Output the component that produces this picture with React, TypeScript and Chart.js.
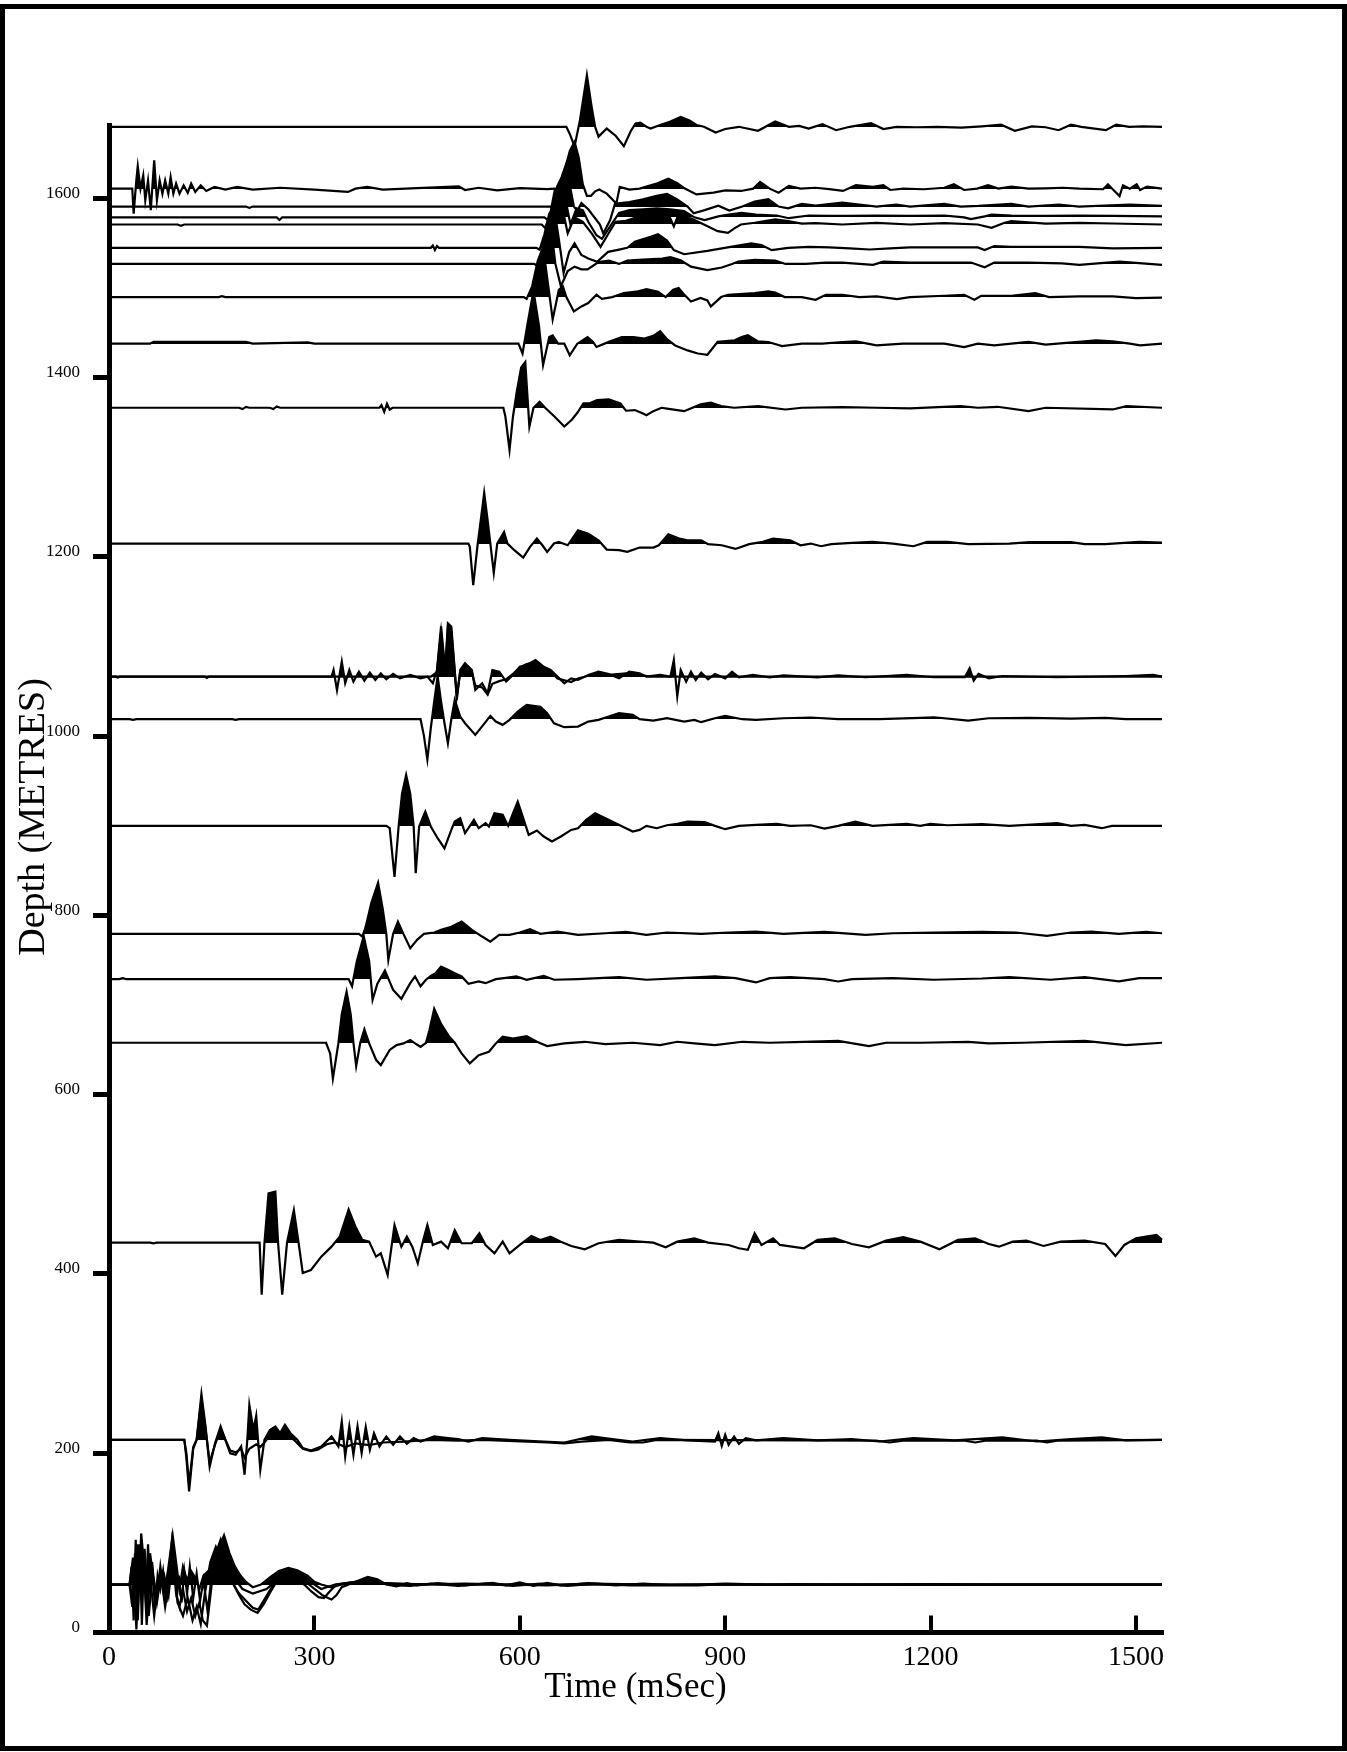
import { useEffect, useRef } from 'react';
import { Chart, registerables } from 'chart.js';

Chart.register(...registerables);

// Axis ticks
const xTicks = [0, 300, 600, 900, 1200, 1500];
const yTicks = [0, 200, 400, 600, 800, 1000, 1200, 1400, 1600];

// Receiver depths (m) for each recorded trace
const depths = [1680, 1611, 1591, 1579, 1571, 1545, 1527, 1490, 1438, 1366.5, 1215, 1066.5, 1066.5, 1019, 900, 779.5, 729, 658, 435, 215, 215, 53.5, 53.5, 53.5, 53.5];

// Trace samples: [time ms, amplitude (m of deflection)]
const tr01 = [[0,0],[668,0],[673,-8],[680,-22],[688,8],[698,57.6],[705,22],[710,0],[715,-11],[727,-2],[740,-10],[752,-21.6],[762,-5],[769,3.7],[776,4.5],[785,0],[791,-1.9],[805,2],[820,6],[835,11],[848,7],[858,2],[869,0],[886,-6.4],[900,-2.5],[920,0],[948,-4.5],[973,6],[993,0],[1008,1],[1022,-2],[1042,3],[1062,-3.8],[1082,0],[1113,4],[1131,-2.5],[1150,0],[1180,-0.5],[1210,0],[1245,-1],[1275,0.5],[1303,2.3],[1323,-4.5],[1348,0.5],[1368,-0.5],[1387,-3.8],[1405,2.3],[1420,0],[1456,-3.8],[1471,2.3],[1490,0],[1510,0.5],[1538,0]];
const tr02 = [[0,0],[34,0],[36,-27.9],[40,10],[42,24.9],[46,0],[50,14.9],[53,-13],[57,9],[61,-24],[66,31.6],[70,-13],[74,9.3],[78,-5.6],[82,9.3],[86.6,-5.6],[90,13],[94,-5.6],[98,5.6],[103,-5.6],[109,3.7],[115,-4.8],[120,5.6],[126,-3.7],[134,3.7],[142,-2.6],[154,1.9],[170,-1.1],[187,1.9],[210,-1],[250,1],[300,-1],[349,-3.7],[360,0],[377,1.9],[400,-1],[450,0.5],[511,2.6],[520,-1.5],[540,1],[567,-1.9],[600,0.5],[640,-0.5],[651,0],[657,-3],[665,18],[673,42],[680,52],[686,35],[692,5],[698,-8],[704,-8],[710,-3],[716,-1],[727,-5.6],[741,-16.7],[746,2],[760,-1],[775,0],[800,5.6],[817,11],[830,6],[839,1],[858,-6.4],[883,-4.5],[900,-2],[923,-2.6],[941,0],[951,7.5],[965,0],[978,-4.5],[993,3],[1010,0],[1032,1],[1052,-0.5],[1072,-2.6],[1091,3.8],[1116,1.9],[1131,3.8],[1141,-1.5],[1160,0],[1190,-0.7],[1220,1],[1234,4.9],[1249,-1.5],[1268,0],[1284,3.8],[1299,0],[1318,2.3],[1343,0],[1368,0.4],[1393,1],[1417,0],[1452,-0.7],[1459,4.9],[1466,-0.7],[1476,-8.3],[1481,3.8],[1491,0],[1501,4.9],[1506,-1.5],[1516,2.3],[1538,0]];
const tr03 = [[0,0],[200,0],[205,-1.5],[210,0],[640,0],[645,0],[650,-4],[656,10],[662,35],[668,48],[674,20],[679,0],[684,-5],[690,4],[700,-3],[717,-20],[722,-30],[732,-15],[739,3],[760,5],[780,8],[800,12],[815,14],[830,8],[845,0],[854,-7.5],[870,-4],[890,1],[906,-4.5],[925,0],[943,5.7],[963,8.3],[978,0],[992,-1.9],[1012,3],[1032,1],[1071,4.5],[1096,2.3],[1121,0],[1150,2.3],[1170,0],[1220,3],[1244,0],[1270,0.7],[1318,3],[1343,0],[1387,2.3],[1417,0],[1491,2.3],[1538,0.7]];
const tr04 = [[0,0],[245,0],[249,-3],[253,0],[636,0],[641,-3],[648,8],[655,35],[662,46],[668,15],[674,-8],[683,10],[692,8],[700,-5],[712,-20],[720,-24],[732,-10],[745,5],[760,8],[780,9],[800,10],[820,9],[840,7],[855,0],[870,-3],[890,1],[905,3],[924,5],[945,3],[975,2],[993,-1],[1022,2],[1052,1.5],[1082,1.5],[1121,2],[1170,1.5],[1220,2],[1249,0],[1259,-2],[1279,1],[1289,3],[1318,2],[1368,1.5],[1417,2],[1466,1.5],[1538,1]];
const tr05 = [[0,0],[100,0],[105,-1.5],[110,0],[632,0],[637,-4],[644,10],[651,38],[658,45],[664,12],[670,-10],[680,8],[692,3],[705,-10],[718,-25],[728,-12],[740,3],[755,4],[775,9],[795,15],[815,15],[825,-2],[830,8],[850,7],[869,0],[889,-7.5],[904,-9.4],[914,-4],[923,0],[943,1.9],[973,5.6],[992,3.8],[1012,1],[1032,1.5],[1071,0],[1121,1.9],[1170,0],[1220,1.5],[1269,0],[1289,-3.8],[1308,1.9],[1318,3.8],[1368,1],[1417,1.9],[1466,1.1],[1538,0]];
const tr06 = [[0,0],[470,0],[473,2.5],[476,-2.5],[479,2],[482,0],[624,0],[629,-2],[636,15],[643,38],[650,45],[657,10],[664,-28],[672,-5],[680,5],[690,-8],[700,-12],[713,-15.6],[729,-4.5],[745,-2],[757,0],[768,6.7],[791,12.3],[802,15.2],[815,8],[825,-2.6],[840,-7.2],[874,-3.5],[908,1],[938,4.9],[953,3],[968,-2.6],[992,0],[1022,1],[1052,0.5],[1082,-0.7],[1111,-1.9],[1141,-0.7],[1170,0.4],[1269,0.4],[1279,-2.6],[1293,1.9],[1318,1.1],[1417,1.1],[1466,-0.7],[1538,0]];
const tr07 = [[0,0],[621,0],[626,-2],[633,15],[640,40],[645,45],[652,0],[660,-25],[670,-8],[680,-3],[690,-6],[699,-6],[715,2],[730,3.7],[745,0],[757,3.7],[780,4.8],[808,6],[820,7.5],[835,4],[850,-3],[874,-6.8],[895,-4],[910,0],[919,2.6],[943,4.5],[973,3.8],[988,0],[1017,0],[1047,1.5],[1071,1.5],[1116,-1.1],[1131,2.6],[1170,1.5],[1220,1.5],[1259,1.5],[1279,-3.8],[1293,1.5],[1343,1.5],[1392,0.7],[1417,-1.1],[1476,2.6],[1500,1.1],[1538,-1.1]];
const tr08 = [[0,0],[160,0],[165,1],[170,0],[606,0],[610,-2],[618,12],[626,40],[634,56],[642,10],[648,-25],[657,8],[663,12],[668,0],[679,-16],[690,-10.4],[700,-6.7],[712,2.6],[720,-2],[735,0],[752,4.5],[770,6],[785,8.9],[802,6],[813,0],[824,8.2],[832,10],[840,3],[850,-4.9],[864,-1],[874,-3.8],[879,-10.6],[894,0],[904,2.6],[943,4.5],[963,6.4],[973,5],[987,0],[1012,0],[1032,-3],[1047,2.6],[1071,2.6],[1096,0],[1121,0.7],[1151,-2.3],[1170,0],[1220,1.5],[1249,2.6],[1264,-3],[1274,1.5],[1318,1.5],[1353,4.5],[1373,0],[1417,0.7],[1466,0.7],[1500,-1.1],[1538,-0.7]];
const tr09 = [[0,0],[60,0],[65,2],[200,2],[210,0],[290,1.5],[300,0],[595,0],[598,0],[604,-11],[612,25],[620,59],[628,20],[634,-24],[643,7.4],[648,9.3],[656,0],[665,0],[673,-13],[684,0],[699,7.4],[707,2],[712,-3.7],[730,2],[749,7.4],[766,7.4],[782,5.6],[795,8.7],[805,14],[815,5],[827,-2],[845,-7.5],[860,-11],[874,-12.4],[881,-5.6],[889,2],[914,3.8],[924,7.5],[933,9.4],[948,2.6],[963,1.9],[983,-2.6],[1012,0],[1042,0],[1071,1.9],[1091,2.6],[1121,-1.9],[1160,0],[1190,0],[1220,0],[1249,-3.8],[1269,0],[1293,-1.9],[1318,0],[1343,1.9],[1368,-1.1],[1442,3.8],[1466,2.6],[1491,0],[1506,-1.9],[1538,0]];
const tr10 = [[0,0],[190,0],[195,-1.5],[200,1],[205,0],[235,0],[240,-1.5],[245,1.5],[250,0],[395,0],[398,3],[402,-4.5],[406,4.5],[410,-2],[414,0],[570,0],[576,0],[579,-10],[585,-47],[590,-10],[596,20],[602,45],[608,51],[614,-21],[620,0],[629,6.7],[637,0],[651,-10],[665,-21],[676,-13.4],[684,-5.6],[693,4.8],[701,4.8],[713,8.5],[730,9.3],[747,4.8],[755,-3.3],[768,-2.6],[780,-6.3],[785,-8.3],[795,-3.8],[807,0],[815,-1],[840,-3.8],[864,3.8],[879,5.7],[894,1.9],[913,0],[948,1.9],[988,-1.9],[1012,0],[1071,0.7],[1121,0],[1170,-0.7],[1244,1.9],[1269,0],[1298,1.1],[1343,-3.8],[1368,0],[1466,-1.9],[1486,1.9],[1538,0]];
const tr11 = [[0,0],[525,0],[527,-3.7],[532,-46.5],[538,-3.7],[543,26],[548,56.5],[553,26],[557,0],[562,-32.7],[567,0],[577,13],[582,0],[592,-7.4],[605,-15.6],[615,-3.7],[625,5.6],[633,-1.9],[640,-9.3],[650,0],[657,1.9],[670,-1.9],[685,14.9],[700,11],[715,3.7],[727,-6.7],[745,-7.4],[757,-9.3],[775,-4.5],[795,-4.5],[803,-1.9],[817,10.4],[833,5.6],[845,3.7],[865,3.7],[875,-0.7],[895,-1.9],[915,-6],[935,-0.7],[955,1.9],[970,5.6],[995,3.7],[1010,-1.9],[1025,0],[1040,-3],[1055,-0.7],[1085,0.7],[1115,1.9],[1145,0],[1175,-3],[1195,1.9],[1225,1.9],[1255,-0.7],[1315,0],[1345,1.5],[1405,1.5],[1425,-0.7],[1455,-0.7],[1505,1.9],[1538,1.1]];
const tr12 = [[0,0],[10,0],[13,-1],[16,0],[140,0],[143,-1.5],[146,0],[325,0],[328,7.4],[333,-15],[340,16.7],[345,-7.4],[351,7.4],[357,-5.6],[365,5.6],[373,-4.5],[381,4.5],[389,-3.7],[397,3.7],[405,-3],[415,3],[425,-1.9],[440,1.9],[455,-1.9],[465,0],[473,-7.4],[479,7.4],[485,56],[491,7.4],[495,59.5],[500,56],[505,7.4],[508,-26],[513,7.4],[520,15],[530,7.4],[535,-15],[545,-7.4],[553,-18.6],[560,7.4],[570,5.6],[580,-5.6],[590,1.9],[600,11],[610,13],[623,18.6],[635,11],[645,7.4],[655,0],[665,-7.4],[675,-1.9],[685,-3.7],[700,1.9],[715,5.6],[730,3],[745,-1.9],[760,5.6],[775,3.7],[785,0],[805,1.9],[820,0],[825,18.6],[830,-22],[835,7.4],[843,-5.6],[850,5.6],[857,-3.7],[865,4.5],[875,-3],[885,3],[900,-1.9],[910,5.6],[920,-0.7],[940,1.9],[965,-0.7],[985,1.5],[1035,-0.7],[1065,1.5],[1105,-0.7],[1165,1.9],[1205,-0.7],[1250,-0.7],[1257,9.3],[1263,-4.5],[1270,3],[1285,-1.9],[1305,0.7],[1385,-0.7],[1485,0.7],[1525,1.9],[1538,0]];
const tr12b = [[0,0],[470,0],[479,5],[485,50],[491,5],[495,55],[500,50],[505,5],[508,-22],[513,5],[520,12],[530,5],[535,-10],[545,-12],[553,-20],[560,-8],[570,-5],[580,-3],[590,3],[600,10],[610,14],[623,16],[635,10],[645,6],[655,-2],[665,-4],[675,-6],[685,-2],[700,1],[715,4],[730,2],[760,4],[790,0],[1538,0]];
const tr13 = [[0,0],[30,0],[35,-0.7],[40,0],[180,0],[185,-0.7],[190,0],[455,0],[460,-18.6],[465,-45],[470,-10],[475,20],[480,48],[485,20],[490,-4.5],[495,-26.8],[500,0],[505,21.6],[513,3],[520,-4.5],[535,-17.5],[545,-8],[557,3.7],[565,-2.6],[575,-6.3],[585,-0.7],[597,8.6],[610,16],[630,14],[640,6.7],[650,-4.5],[665,-8.9],[685,-8.2],[700,-2.6],[715,-0.7],[730,3],[745,6.7],[765,4.8],[775,0],[795,-1.5],[815,1.1],[840,-2.6],[855,-0.7],[865,-3.3],[885,1.1],[900,3.7],[925,0],[945,-0.7],[985,1.1],[1025,1.9],[1065,0],[1125,0],[1185,1.5],[1205,2.2],[1255,-1.5],[1285,1.1],[1345,1.5],[1405,0.7],[1455,1.5],[1485,0],[1538,0]];
const tr14 = [[0,0],[405,0],[410,-2.6],[417,-57],[423,-0.7],[428,36],[434,57],[440,36],[445,-0.7],[448,-52.8],[453,-0.7],[462,16],[470,-0.7],[480,-13.8],[490,-25],[500,-4.5],[505,4.8],[513,8.6],[520,-8],[525,-2.6],[533,6.7],[540,-2.6],[550,3],[555,-0.7],[563,14],[575,12.3],[583,0],[590,14],[597,27],[605,8.6],[613,-10],[625,-5.2],[635,-11.9],[647,-17.5],[660,-11.9],[675,-4.5],[685,-2.6],[697,6.7],[710,14],[725,8.6],[740,3],[755,-2.6],[765,-6.3],[775,-4.5],[785,0],[800,-2.6],[815,0.7],[830,2.2],[845,4.8],[870,4.1],[885,0],[900,-3.7],[920,0],[945,1.1],[975,2.2],[995,0],[1025,0.7],[1045,-3],[1065,0],[1090,4.8],[1115,0],[1165,2.2],[1185,0],[1200,2.2],[1225,0.7],[1275,1.9],[1315,0],[1385,3],[1405,0],[1425,1.1],[1450,-2.6],[1465,0],[1538,0]];
const tr15 = [[0,0],[365,0],[370,-3],[375,8],[383,34],[393,57],[400,27],[405,0],[408,-29],[415,0],[422,13.8],[430,0],[440,-16],[450,-6.7],[460,0],[475,1.5],[485,4.5],[500,8],[515,13.8],[530,4.5],[545,-3],[557,-8.6],[570,-1.1],[585,-1.1],[600,1.5],[615,5.2],[630,0],[655,2.6],[685,-1.1],[725,0.7],[755,2.2],[785,-1.1],[815,1.5],[865,0],[905,1.5],[945,2.6],[985,0],[1045,2.2],[1105,-1.1],[1145,0.7],[1205,1.5],[1275,2.2],[1325,1.5],[1370,-2.2],[1405,1.5],[1435,2.6],[1475,0],[1515,2.2],[1538,0.7]];
const tr16 = [[0,0],[15,0],[20,1],[25,0],[350,0],[355,-8],[362,20],[372,48],[380,20],[385,-23],[392,-5],[403,9.7],[415,-12],[427,-22],[440,-4.5],[447,3],[455,-8],[463,-0.7],[470,3.7],[477,6.7],[485,14],[495,10.4],[505,6.7],[515,3],[525,-5.2],[540,-2.6],[550,-4.5],[565,0],[577,1.1],[595,3],[610,-0.7],[635,3.7],[650,-0.7],[685,0],[745,2.2],[785,-0.7],[835,1.1],[885,3],[915,1.1],[945,-3.7],[965,1.1],[995,2.2],[1045,0],[1065,-2.6],[1085,0],[1145,1.1],[1205,-0.7],[1275,0.7],[1315,2.2],[1375,-0.7],[1425,2.2],[1475,-2.6],[1505,1.1],[1538,1.1]];
const tr17 = [[0,0],[317,0],[323,-11.9],[327,-40],[335,-0.7],[340,32],[347,57],[353,32],[357,0],[361,-26],[367,0],[373,15],[380,-0.7],[390,-19],[397,-25],[410,-8],[420,-2.6],[430,-0.7],[440,3],[447,-0.7],[455,-4.5],[463,0],[468,14],[475,38],[485,21],[497,6.7],[505,0],[515,-11.9],[527,-23],[540,-13.8],[555,-10],[565,-0.7],[575,6.7],[590,4.8],[610,7.4],[625,1.1],[640,-3.7],[665,-0.7],[695,1.1],[725,-1.5],[765,0],[805,-2.6],[830,1.1],[855,-0.7],[885,-2.6],[925,1.1],[965,0],[1015,1.1],[1065,2.2],[1110,-3.7],[1135,0],[1185,0],[1255,1.1],[1285,-0.7],[1335,0],[1425,2.2],[1485,-2.6],[1538,0]];
const tr18 = [[0,0],[60,0],[65,-0.7],[70,0],[220,0],[223,-58],[227,-0.7],[233,55],[243,57],[247,-0.7],[253,-58],[260,0],[270,36.4],[277,-0.7],[283,-34],[295,-30.5],[310,-15.6],[325,-4.5],[337,6.7],[350,37],[360,17.8],[370,3],[380,1.1],[390,-15.6],[397,-11.9],[407,-36],[417,19.7],[427,-4.5],[435,6.7],[443,-4.5],[451,-23],[459,3],[465,19.7],[473,-2.6],[485,1.1],[495,-6.3],[505,14],[515,-0.7],[530,-0.7],[541,10.4],[550,-2.6],[563,-12],[575,1.1],[585,-12],[600,-2.6],[617,7.4],[630,3],[645,6.7],[660,1.1],[675,-3.7],[695,-7.4],[715,-0.7],[745,3],[775,1.1],[795,0],[813,-5.2],[830,1.1],[855,4.8],[875,0],[905,-2.6],[920,-6.3],[933,-8],[943,10.4],[953,-2.6],[970,4.8],[980,-2.6],[1015,-6.3],[1035,3],[1060,4.8],[1085,-1.5],[1110,-5.2],[1135,2.2],[1160,6],[1185,1.1],[1213,-7.4],[1240,3],[1265,4.8],[1285,-1.5],[1300,-4.5],[1320,1.1],[1340,2.2],[1365,-3.7],[1390,1.1],[1425,2.2],[1455,-1.5],[1470,-15],[1483,-2.6],[1500,4.8],[1515,6.7],[1530,8.5],[1538,3]];
const tr19 = [[0,0],[110,0],[113,-20],[117,-57.7],[123,-10],[128,0],[135,51],[141,15],[143,0],[147,-30],[155,-3.7],[163,15],[170,0],[177,-15],[185,-16.7],[193,-7.4],[198,-39],[202,0],[205,39],[211,11],[215,26.8],[221,-33.5],[227,0],[235,11],[243,14.9],[250,7.4],[257,16.7],[265,7.4],[275,0],[283,-9.3],[295,-12],[310,-7.4],[325,3.7],[335,-7.4],[340,20.4],[345,-18.6],[351,14.9],[357,-16.7],[363,14.9],[369,-14.9],[375,14.1],[381,-11.2],[387,7.4],[395,-7.4],[405,3.7],[415,-5.6],[425,3.7],[435,-4.5],[445,1.9],[455,-1.9],[475,3.7],[495,1.9],[510,0.7],[525,-1.9],[545,1.9],[585,0],[635,-1.9],[665,-3],[705,3.7],[735,0.7],[765,-1.9],[805,1.9],[845,-0.7],[885,-1.9],[890,7.4],[895,-6.7],[900,5.6],[905,-5.6],[913,3.7],[920,-4.5],[930,1.9],[945,-0.7],[985,1.9],[1035,-0.7],[1085,0.7],[1125,-1.9],[1175,1.9],[1235,-0.7],[1305,2.6],[1355,-1.9],[1405,0.7],[1450,2.6],[1485,-0.7],[1538,0]];
const tr19b = [[0,0],[110,0],[113,-15],[117,-50],[123,-8],[128,0],[135,45],[141,12],[143,0],[147,-25],[155,-5],[163,12],[170,0],[177,-12],[185,-14],[193,-10],[198,-20],[205,-10],[215,-5],[221,-8],[227,-3],[235,5],[243,8],[257,6],[270,0],[283,-10],[295,-12.5],[305,-11],[318,-5],[330,-3],[345,-8],[360,-4],[380,-6],[400,-3],[430,-2],[470,0],[510,-1],[545,0],[640,-3],[665,-4],[690,-2],[730,0],[760,-3],[780,-3],[800,0],[1120,-1],[1140,-3],[1160,-1],[1250,-1],[1265,-3],[1280,-1],[1355,-1],[1370,-3],[1385,-1],[1538,0]];
const tr20a = [[0,0],[30,0],[34,-25],[38,35],[42,-40],[47,57],[52,15],[56,-30],[60,35],[65,5],[70,-15],[75,20],[80,-10],[86,15],[93,55],[98,25],[103,-5],[108,20],[114,5],[120,15],[126,8],[132,-5],[138,10],[145,15],[152,20],[160,40],[168,55],[176,35],[184,20],[192,10],[200,3],[210,-3],[222,0],[235,8],[248,15],[262,18.6],[275,16],[290,10],[300,3],[310,0],[325,-3],[340,0],[360,3],[378,8.5],[392,6],[405,0],[420,-2],[435,1.5],[450,-1],[480,1.5],[520,-1],[560,2],[580,-1],[600,2.5],[620,-1.5],[640,2],[660,-1],[700,1.5],[740,-1],[780,1],[820,-0.5],[860,0],[900,1],[960,0],[1000,0.5],[1100,0],[1200,0.5],[1300,0],[1538,0]];
const tr20b = [[0,0],[30,0],[35,30],[40,-50],[44,25],[48,-20],[52,40],[58,-35],[64,15],[70,-20],[76,10],[82,-25],[88,5],[93,30],[98,-10],[103,-25],[108,-5],[114,-30],[120,-15],[126,-35],[132,-20],[137,-40],[143,-46],[150,0],[158,30],[166,45],[174,20],[182,0],[190,-12],[198,-22],[207,-28],[217,-31.6],[226,-22],[236,-8],[246,5],[256,12],[268,14],[280,10],[292,0],[302,-6],[312,-12],[320,-15],[325,-16.7],[332,-12],[340,-3],[350,0],[365,3],[380,5],[400,1],[420,-1],[440,-1.5],[470,1],[510,-1.5],[550,1],[590,-1.5],[630,1],[670,-1.5],[710,1],[760,-1],[860,-1],[900,0.5],[1000,-0.5],[1100,0],[1538,0]];
const tr20c = [[0,0],[30,0],[36,-20],[42,45],[47,-10],[50,35],[55,-45],[60,10],[66,-35],[72,5],[80,12],[87,-12],[94,40],[100,-20],[108,-35],[115,-15],[122,-40],[128,-25],[134,-44],[140,-10],[148,25],[156,42],[164,25],[172,8],[182,0],[190,-10],[200,-18],[210,-26],[218,-28],[226,-18],[236,-5],[248,8],[260,12],[272,6],[285,0],[296,-8],[306,-14],[314,-15],[322,-8],[332,0],[360,3],[400,1],[500,0],[1538,0]];
const tr20d = [[0,0],[30,0],[33,20],[36,-40],[39,50],[42,-30],[45,45],[48,-45],[51,30],[54,-20],[57,45],[60,-10],[63,25],[67,-25],[71,10],[75,-5],[79,15],[84,-20],[89,25],[92,50],[95,35],[99,-15],[102,10],[106,-20],[110,15],[114,-10],[118,20],[123,-15],[128,12],[133,-18],[138,5],[144,-30],[150,10],[156,35],[163,50],[170,30],[177,15],[185,5],[195,-5],[210,-10],[230,-5],[250,8],[270,12],[290,5],[310,-5],[330,0],[370,4],[400,2],[450,0],[520,1],[640,-1],[700,1],[800,0],[1538,0]];

const traceSamples = [tr01, tr02, tr03, tr04, tr05, tr06, tr07, tr08, tr09, tr10, tr11, tr12, tr12b, tr13, tr14, tr15, tr16, tr17, tr18, tr19, tr19b, tr20a, tr20b, tr20c, tr20d];

const FONT = 'Liberation Serif';
const Y_MIN = 0;
const Y_MAX = 1682;
const AREA_TOP = 125;
const AREA_BOTTOM = 1632.5;

// Fill reference level for a trace, snapped so its edge lies on a whole pixel row
function fillLevel(d: number) {
  const span = AREA_BOTTOM - AREA_TOP;
  const p = Math.round(AREA_BOTTOM - ((d - Y_MIN) / (Y_MAX - Y_MIN)) * span);
  return Y_MIN + ((AREA_BOTTOM - p) / span) * (Y_MAX - Y_MIN);
}

// Let the variable-area fill and traces extend above the top of the plot frame
const overTopPlugin = {
  id: 'overTop',
  beforeDatasetsDraw(chart: any) {
    chart.$savedTop = chart.chartArea.top;
    chart.chartArea.top = 0;
  },
  afterDatasetsDraw(chart: any) {
    chart.chartArea.top = chart.$savedTop;
  },
};

export default function App() {
  const ref = useRef<HTMLCanvasElement | null>(null);

  useEffect(() => {
    if (!ref.current) return;
    const datasets = traceSamples.map((pts, i) => ({
      data: pts.map(([t, a]) => ({ x: t, y: depths[i] + a })),
      borderColor: '#000',
      borderWidth: 2.2,
      pointRadius: 0,
      tension: 0,
      clip: false as any,
      fill: { target: { value: fillLevel(depths[i]) }, above: '#000', below: 'rgba(0,0,0,0)' },
    }));

    const chart = new Chart(ref.current, {
      type: 'line',
      data: { datasets: datasets as any },
      options: {
        animation: false,
        responsive: false,
        devicePixelRatio: 1,
        layout: { padding: { left: 0, top: AREA_TOP, right: 185, bottom: 0 } },
        plugins: {
          legend: { display: false },
          tooltip: { enabled: false },
        },
        elements: { point: { radius: 0 } },
        scales: {
          x: {
            type: 'linear',
            position: 'bottom',
            min: 0,
            max: 1538,
            afterBuildTicks: (s: any) => { s.ticks = xTicks.map((v) => ({ value: v })); },
            afterFit: (s: any) => { s.height = 1752 - AREA_BOTTOM; },
            border: { display: true, width: 5, color: '#000' },
            grid: { display: true, drawOnChartArea: false, drawTicks: true, tickLength: -17, lineWidth: 4, color: '#000' },
            ticks: {
              color: '#000',
              font: { family: FONT, size: 28 },
              padding: 25,
              autoSkip: false,
              maxRotation: 0,
              minRotation: 0,
              callback: (v: any) => String(v),
            },
            title: {
              display: true,
              text: 'Time (mSec)',
              color: '#000',
              font: { family: FONT, size: 35 },
              padding: { top: 0, bottom: 43 },
            },
          },
          y: {
            type: 'linear',
            min: Y_MIN,
            max: Y_MAX,
            afterBuildTicks: (s: any) => { s.ticks = yTicks.map((v) => ({ value: v })); },
            afterFit: (s: any) => { s.width = 109; },
            border: { display: true, width: 5, color: '#000' },
            grid: { display: true, drawOnChartArea: false, drawTicks: true, tickLength: 16, lineWidth: 5, color: '#000' },
            ticks: {
              color: '#000',
              font: { family: FONT, size: 17 },
              padding: 13,
              labelOffset: -5,
              autoSkip: false,
              callback: (v: any) => String(v),
            },
            title: {
              display: true,
              text: '\u00A0'.repeat(13) + 'Depth (METRES)',
              color: '#000',
              font: { family: FONT, size: 38 },
              padding: { top: 11, bottom: 0 },
            },
          },
        },
      },
      plugins: [overTopPlugin],
    });
    return () => chart.destroy();
  }, []);

  return (
    <div style={{ position: 'absolute', left: 0, top: 0, width: 1347, height: 1752, background: '#fff', overflow: 'hidden' }}>
      <div style={{ position: 'absolute', left: 0, top: 4, width: 1347, height: 1747, border: '5px solid #000', boxSizing: 'border-box' }} />
      <canvas ref={ref} width={1347} height={1752} style={{ position: 'absolute', left: 0, top: 0, width: 1347, height: 1752 }} />
    </div>
  );
}
